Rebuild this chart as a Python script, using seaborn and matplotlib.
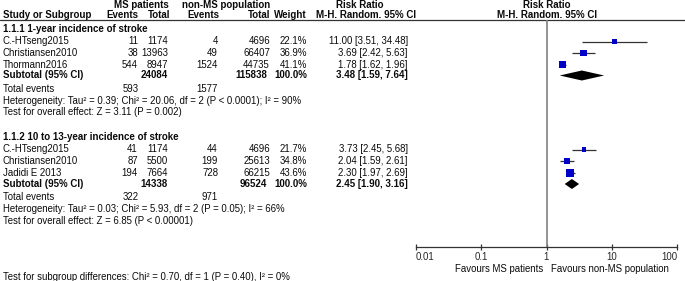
import numpy as np
import pandas as pd
import matplotlib
matplotlib.use("Agg")
import matplotlib.pyplot as plt
import seaborn as sns

# ================== data ==================
# 1.1.1 1-year incidence of stroke
g1_title = "1.1.1 1-year incidence of stroke"
g1_study = ["C.-HTseng2015", "Christiansen2010", "Thormann2016"]
g1_ms_events = [11, 38, 544]
g1_ms_total = [1174, 13963, 8947]
g1_non_events = [4, 49, 1524]
g1_non_total = [4696, 66407, 44735]
g1_weight = [22.1, 36.9, 41.1]
g1_rr = [11.00, 3.69, 1.78]
g1_lo = [3.51, 2.42, 1.62]
g1_hi = [34.48, 5.63, 1.96]
g1_sub = [3.48, 1.59, 7.64]
g1_sub_totals = [24084, 115838]
g1_sub_weight = 100.0
g1_total_events = [593, 1577]
g1_het = "Heterogeneity: Tau² = 0.39; Chi² = 20.06, df = 2 (P < 0.0001); I² = 90%"
g1_test = "Test for overall effect: Z = 3.11 (P = 0.002)"

# 1.1.2 10 to 13-year incidence of stroke
g2_title = "1.1.2 10 to 13-year incidence of stroke"
g2_study = ["C.-HTseng2015", "Christiansen2010", "Jadidi E 2013"]
g2_ms_events = [41, 87, 194]
g2_ms_total = [1174, 5500, 7664]
g2_non_events = [44, 199, 728]
g2_non_total = [4696, 25613, 66215]
g2_weight = [21.7, 34.8, 43.6]
g2_rr = [3.73, 2.04, 2.30]
g2_lo = [2.45, 1.59, 1.97]
g2_hi = [5.68, 2.61, 2.69]
g2_sub = [2.45, 1.90, 3.16]
g2_sub_totals = [14338, 96524]
g2_sub_weight = 100.0
g2_total_events = [322, 971]
g2_het = "Heterogeneity: Tau² = 0.03; Chi² = 5.93, df = 2 (P = 0.05); I² = 66%"
g2_test = "Test for overall effect: Z = 6.85 (P < 0.00001)"

subgroup_test = "Test for subgroup differences: Chi² = 0.70, df = 1 (P = 0.40), I² = 0%"
tick_vals = [0.01, 0.1, 1, 10, 100]
tick_labels = ["0.01", "0.1", "1", "10", "100"]
favours_left = "Favours MS patients"
favours_right = "Favours non-MS population"

# ================== layout (pixel rows) ==================
W, H = 685, 281
HEAD_Y = [4.5, 15]
LINE_Y = 20
G1_ROWS = [28.5, 41.5, 53, 64.5, 75.5, 89, 100.5, 112]
G2_ROWS = [137, 149.5, 161, 173, 184, 197, 209, 221]
AXIS_Y = 247
FOOT_Y = 268.5
SUBTEST_Y = 277

X_STUDY = 3
X_MS_EV, X_MS_TOT = 138, 168
X_NON_EV, X_NON_TOT = 218, 270
X_WEIGHT, X_RR = 307, 408
X_FOREST = (416, 677)
X_ONE = 547

BLUE = "#0000C8"
FS = 6.9
FS_HEAD = 7.0

sns.set_theme(style="white")
plt.rcParams["font.family"] = ["Liberation Sans", "DejaVu Sans"]

fig = plt.figure(figsize=(W / 100, H / 100), dpi=100)
tax = fig.add_axes([0, 0, 1, 1])
tax.set_xlim(0, W)
tax.set_ylim(H, 0)
tax.axis("off")


def txt(x, y, s, ha="left", bold=False, size=FS):
    tax.text(x, y, s, ha=ha, va="center", fontsize=size,
             fontweight="bold" if bold else "normal", color="#0a0a0a")


# header
txt(141, HEAD_Y[0], "MS patients", ha="center", bold=True, size=FS_HEAD)
txt(226, HEAD_Y[0], "non-MS population", ha="center", bold=True, size=FS_HEAD)
txt(360, HEAD_Y[0], "Risk Ratio", ha="center", bold=True, size=FS_HEAD)
txt(X_ONE, HEAD_Y[0], "Risk Ratio", ha="center", bold=True, size=FS_HEAD)
txt(X_STUDY, HEAD_Y[1], "Study or Subgroup", bold=True, size=FS_HEAD)
txt(X_MS_EV, HEAD_Y[1], "Events", ha="right", bold=True, size=FS_HEAD)
txt(X_MS_TOT + 2, HEAD_Y[1], "Total", ha="right", bold=True, size=FS_HEAD)
txt(X_NON_EV + 1, HEAD_Y[1], "Events", ha="right", bold=True, size=FS_HEAD)
txt(X_NON_TOT, HEAD_Y[1], "Total", ha="right", bold=True, size=FS_HEAD)
txt(X_WEIGHT, HEAD_Y[1], "Weight", ha="right", bold=True, size=FS_HEAD)
txt(366, HEAD_Y[1], "M-H. Random. 95% CI", ha="center", bold=True, size=FS_HEAD)
txt(X_ONE, HEAD_Y[1], "M-H. Random. 95% CI", ha="center", bold=True, size=FS_HEAD)
tax.plot([0, W], [LINE_Y, LINE_Y], color="#333333", lw=0.9)

groups = [
    (g1_title, g1_study, g1_ms_events, g1_ms_total, g1_non_events, g1_non_total,
     g1_weight, g1_rr, g1_lo, g1_hi, g1_sub, g1_sub_totals, g1_sub_weight,
     g1_total_events, g1_het, g1_test, G1_ROWS),
    (g2_title, g2_study, g2_ms_events, g2_ms_total, g2_non_events, g2_non_total,
     g2_weight, g2_rr, g2_lo, g2_hi, g2_sub, g2_sub_totals, g2_sub_weight,
     g2_total_events, g2_het, g2_test, G2_ROWS),
]

# forest axes
fax = fig.add_axes([X_FOREST[0] / W, 1 - AXIS_Y / H,
                    (X_FOREST[1] - X_FOREST[0]) / W, (AXIS_Y - LINE_Y) / H])
fax.set_facecolor("none")
fax.set_xscale("log")
fax.set_xlim(tick_vals[0], tick_vals[-1])
fax.set_ylim(AXIS_Y, LINE_Y)
for sp in ["top", "left", "right"]:
    fax.spines[sp].set_visible(False)
fax.spines["bottom"].set_color("#333333")
fax.spines["bottom"].set_linewidth(0.9)
fax.set_yticks([])
fax.axvline(1, color="#808080", lw=1.2, zorder=1)

rows = []
for (title, study, mse, mst, nne, nnt, w, rr, lo, hi, sub, subtot, subw,
     tev, het, test, ry) in groups:
    txt(X_STUDY, ry[0], title, bold=True, size=FS_HEAD)
    for i, name in enumerate(study):
        y = ry[1 + i]
        txt(X_STUDY, y, name)
        txt(X_MS_EV, y, str(mse[i]), ha="right")
        txt(X_MS_TOT, y, str(mst[i]), ha="right")
        txt(X_NON_EV, y, str(nne[i]), ha="right")
        txt(X_NON_TOT, y, str(nnt[i]), ha="right")
        txt(X_WEIGHT, y, f"{w[i]:.1f}%", ha="right")
        txt(X_RR, y, f"{rr[i]:.2f} [{lo[i]:.2f}, {hi[i]:.2f}]", ha="right")
        rows.append({"rr": rr[i], "lo": lo[i], "hi": hi[i], "w": w[i], "y": y})
    ys = ry[4]
    txt(X_STUDY, ys, "Subtotal (95% CI)", bold=True, size=FS_HEAD)
    txt(X_MS_TOT, ys, str(subtot[0]), ha="right", bold=True, size=FS_HEAD)
    txt(X_NON_TOT - 3, ys, str(subtot[1]), ha="right", bold=True, size=FS_HEAD)
    txt(X_WEIGHT, ys, f"{subw:.1f}%", ha="right", bold=True, size=FS_HEAD)
    txt(X_RR, ys, f"{sub[0]:.2f} [{sub[1]:.2f}, {sub[2]:.2f}]", ha="right",
        bold=True, size=FS_HEAD)
    txt(X_STUDY, ry[5], "Total events")
    txt(X_MS_EV + 1, ry[5], str(tev[0]), ha="right")
    txt(X_NON_EV, ry[5], str(tev[1]), ha="right")
    txt(X_STUDY, ry[6], het)
    txt(X_STUDY, ry[7], test)
    # pooled diamond
    fax.fill([sub[1], sub[0], sub[2], sub[0]], [ys, ys - 5, ys, ys + 5],
             color="black", lw=0, zorder=3)

df = pd.DataFrame(rows)
fax.hlines(df["y"], df["lo"], df["hi"], color="#333333", lw=0.9, zorder=2)
sns.scatterplot(data=df, x="rr", y="y", size="w", sizes=(11, 28), marker="s",
                color=BLUE, linewidth=0, legend=False, ax=fax, zorder=4)
fax.set_xlabel("")
fax.set_ylabel("")
fax.set_ylim(AXIS_Y, LINE_Y)

fax.set_xticks(tick_vals)
fax.set_xticklabels(tick_labels)
fax.minorticks_off()
fax.tick_params(axis="x", direction="inout", length=4, width=0.9,
                color="#333333", labelsize=FS, pad=1.5, bottom=True)
lbls = fax.get_xticklabels()
lbls[0].set_ha("left")
lbls[-1].set_ha("right")

txt(X_ONE - 4, FOOT_Y, favours_left, ha="right")
txt(X_ONE + 4, FOOT_Y, favours_right, ha="left")
txt(X_STUDY, SUBTEST_Y, subgroup_test)

fig.savefig("out.png", dpi=100)
